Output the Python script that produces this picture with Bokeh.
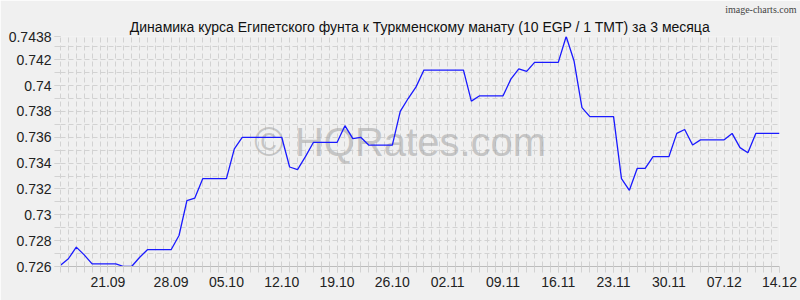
from bokeh.plotting import figure
from bokeh.models import Range1d, FixedTicker, Label, Title
from bokeh.embed import file_html
from bokeh.resources import INLINE

# Daily rate, 10 EGP / 1 TMT, from 14.09 to 14.12 (92 days)
rates = [
    0.7261, 0.7266, 0.7275, 0.7269, 0.7262, 0.7262, 0.7262, 0.7262, 0.7260, 0.7260,
    0.7267, 0.7273, 0.7273, 0.7273, 0.7273, 0.7284, 0.7311, 0.7313, 0.7328, 0.7328,
    0.7328, 0.7328, 0.7351, 0.7360, 0.7360, 0.7360, 0.7360, 0.7360, 0.7360, 0.7337,
    0.7335, 0.7345, 0.7356, 0.7356, 0.7356, 0.7356, 0.7369, 0.7359, 0.7360, 0.7354,
    0.7354, 0.7354, 0.7354, 0.7380, 0.7390, 0.7399, 0.7412, 0.7412, 0.7412, 0.7412,
    0.7412, 0.7412, 0.7388, 0.7392, 0.7392, 0.7392, 0.7392, 0.7405, 0.7413, 0.7411,
    0.7418, 0.7418, 0.7418, 0.7418, 0.7438, 0.7419, 0.7383, 0.7376, 0.7376, 0.7376,
    0.7376, 0.7328, 0.7319, 0.7336, 0.7336, 0.7345, 0.7345, 0.7345, 0.7363, 0.7366,
    0.7354, 0.7358, 0.7358, 0.7358, 0.7358, 0.7363, 0.7352, 0.7348, 0.7363, 0.7363,
    0.7363, 0.7363,
]
days = list(range(len(rates)))

x_tick_positions = [6, 14, 21, 28, 35, 42, 49, 56, 63, 70, 77, 84, 91]
x_tick_labels = ["21.09", "28.09", "05.10", "12.10", "19.10", "26.10", "02.11",
                 "09.11", "16.11", "23.11", "30.11", "07.12", "14.12"]

y_tick_values = [0.726, 0.728, 0.730, 0.732, 0.734, 0.736, 0.738, 0.740, 0.742, 0.7438]
y_tick_labels = ["0.726", "0.728", "0.73", "0.732", "0.734", "0.736", "0.738",
                 "0.74", "0.742", "0.7438"]
y_grid_values = [0.726, 0.727, 0.728, 0.729, 0.730, 0.731, 0.732, 0.733, 0.734,
                 0.735, 0.736, 0.737, 0.738, 0.739, 0.740, 0.741, 0.742, 0.743, 0.7438]

title_text = "Динамика курса Египетского фунта к Туркменскому манату (10 EGP / 1 TMT) за 3 месяца"
brand_text = "image-charts.com"

BG = "#f0f0f0"
GRID = "#d2d2d2"
FONT = "Liberation Sans"

p = figure(width=800, height=300, output_backend="svg", toolbar_location=None,
           x_range=Range1d(0, days[-1]), y_range=Range1d(0.726, 0.7438),
           min_border_left=60, min_border_right=21, min_border_top=36, min_border_bottom=34,
           background_fill_color=BG, border_fill_color=BG, outline_line_color=None)

# brand line (outer) and chart title (closest to the frame)
p.title.text = brand_text
p.title.align = "right"
p.title.text_font = "Liberation Sans Narrow"
p.title.text_font_size = "10px"
p.title.text_font_style = "normal"
p.title.text_color = "#444444"
p.title.text_line_height = 0.8
p.title.standoff = 0
p.title.offset = -17
p.add_layout(Title(text=title_text, align="center", text_font=FONT,
                   text_font_size="14px", text_font_style="normal", text_color="#111111",
                   text_line_height=0.8, standoff=4), "above")

# grids
p.xgrid.ticker = FixedTicker(ticks=days)
p.ygrid.ticker = FixedTicker(ticks=y_grid_values)
for g in (p.xgrid, p.ygrid):
    g.grid_line_color = GRID
    g.grid_line_dash = "5 3"
    g.grid_line_width = 1

# x axis
xa = p.xaxis[0]
xa.ticker = FixedTicker(ticks=x_tick_positions, minor_ticks=days)
xa.major_label_overrides = {pos: lab for pos, lab in zip(x_tick_positions, x_tick_labels)}
xa.axis_line_color = "#bcbcbc"
xa.major_tick_line_color = GRID
xa.minor_tick_line_color = GRID
xa.major_tick_in = 0
xa.minor_tick_in = 0
xa.major_tick_out = 6
xa.minor_tick_out = 6
xa.major_label_standoff = 4
xa.major_label_text_font = FONT
xa.major_label_text_font_size = "14px"
xa.major_label_text_color = "#222222"

# y axis
ya = p.yaxis[0]
ya.ticker = FixedTicker(ticks=y_tick_values, minor_ticks=y_grid_values)
ya.major_label_overrides = {v: lab for v, lab in zip(y_tick_values, y_tick_labels)}
ya.axis_line_color = GRID
ya.axis_line_dash = "5 3"
ya.major_tick_line_color = GRID
ya.minor_tick_line_color = GRID
ya.major_tick_in = 0
ya.minor_tick_in = 0
ya.major_tick_out = 6
ya.minor_tick_out = 6
ya.major_label_standoff = 3
ya.major_label_text_font = FONT
ya.major_label_text_font_size = "14px"
ya.major_label_text_color = "#222222"

# watermark
p.add_layout(Label(x=43, y=0.7356, text="© HQRates.com", text_align="center",
                   text_baseline="middle", text_font=FONT, text_font_size="40px",
                   text_color="#a8a8a8", text_alpha=0.6, level="underlay"))

# series
p.line(days, rates, line_color="#1a1aff", line_width=1.3)

open("out.html", "w").write(file_html(p, INLINE))
